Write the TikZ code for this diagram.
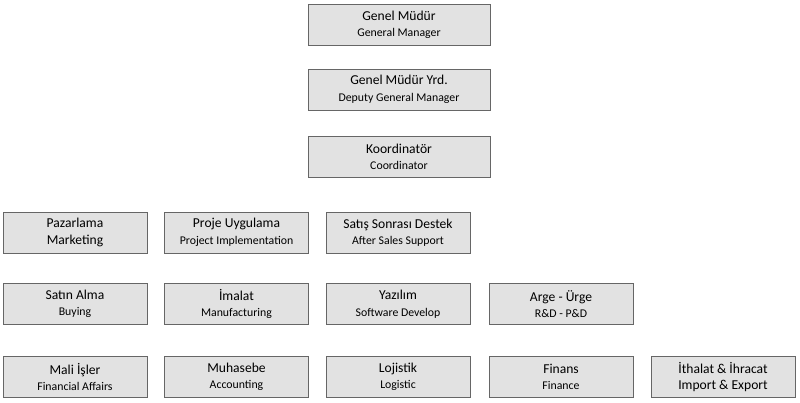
\documentclass[tikz,border=0pt]{standalone}
\usepackage{fontspec}
\setmainfont{Carlito}
\usepackage{tikz}

\definecolor{kutu}{HTML}{E2E2E2}
\definecolor{kenar}{HTML}{666666}

\tikzset{
    birim/.style={draw=kenar, fill=kutu, line width=0.9pt, minimum width=144pt,
        minimum height=41pt, inner sep=0pt, align=center,
        font=\fontsize{13.6}{16.5}\selectfont},
    ust/.style={birim, minimum width=182pt}
}
\newcommand{\ing}[1]{{\fontsize{11.8}{15.5}\selectfont #1}}

\begin{document}
\begin{tikzpicture}[x=1pt, y=-1pt]

\useasboundingbox (0,0) rectangle (800,402);

\coordinate (c1) at (75,0);
\coordinate (c2) at (236.5,0);
\coordinate (c3) at (398,0);
\coordinate (c4) at (561,0);
\coordinate (c5) at (723,0);

% top levels
\node [ust] (gm)   at (399,25)   {Genel Müdür\\\ing{General Manager}};
\node [ust] (gmy)  at (399,89.5) {Genel Müdür Yrd.\\\ing{Deputy General Manager}};
\node [ust] (koor) at (399,157)  {Koordinatör\\\ing{Coordinator}};

% departments
\node [birim] (paz) at (c1 |- 0,232.5) {Pazarlama\\Marketing};
\node [birim] (pro) at (c2 |- 0,232.5) {Proje Uygulama\\\ing{Project Implementation}};
\node [birim] (sss) at (c3 |- 0,232.5) {Satış Sonrası Destek\\\ing{After Sales Support}};

\node [birim] (sat) at (c1 |- 0,304) {Satın Alma\\\ing{Buying}};
\node [birim] (ima) at (c2 |- 0,304) {İmalat\\\ing{Manufacturing}};
\node [birim] (yaz) at (c3 |- 0,304) {Yazılım\\\ing{Software Develop}};
\node [birim] (arg) at (c4 |- 0,304) {Arge - Ürge\\\ing{R\&D - P\&D}};

\node [birim] (mal) at (c1 |- 0,377) {Mali İşler\\\ing{Financial Affairs}};
\node [birim] (muh) at (c2 |- 0,377) {Muhasebe\\\ing{Accounting}};
\node [birim] (loj) at (c3 |- 0,377) {Lojistik\\\ing{Logistic}};
\node [birim] (fin) at (c4 |- 0,377) {Finans\\\ing{Finance}};
\node [birim] (ith) at (c5 |- 0,377) {İthalat \& İhracat\\Import \& Export};

\end{tikzpicture}
\end{document}
